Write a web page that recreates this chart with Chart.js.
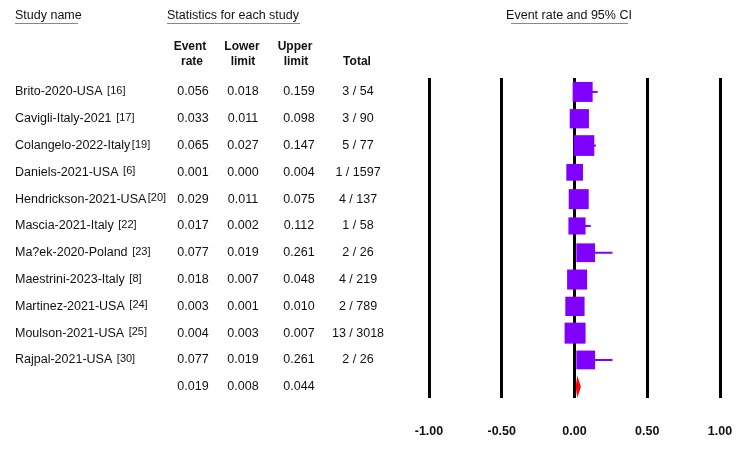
<!DOCTYPE html>
<html>
<head>
<meta charset="utf-8">
<script src="https://cdn.jsdelivr.net/npm/chart.js@4"></script>
<style>
body{margin:0;background:#fff;}
#wrap{width:750px;height:459px;position:relative;}
</style>
</head>
<body>
<div id="wrap"><canvas id="forest"></canvas></div>
<script>
// study table
const studyNames = ["Brito-2020-USA", "Cavigli-Italy-2021", "Colangelo-2022-Italy", "Daniels-2021-USA",
  "Hendrickson-2021-USA", "Mascia-2021-Italy", "Ma?ek-2020-Poland", "Maestrini-2023-Italy",
  "Martinez-2021-USA", "Moulson-2021-USA", "Rajpal-2021-USA"];
const studyRefs = [" [16]", " [17]", "[19]", " [6]", "[20]", " [22]", " [23]", " [8]", " [24]", " [25]", " [30]"];
const eventRate = [0.056, 0.033, 0.065, 0.001, 0.029, 0.017, 0.077, 0.018, 0.003, 0.004, 0.077];
const lowerLimit = [0.018, 0.011, 0.027, 0.000, 0.011, 0.002, 0.019, 0.007, 0.001, 0.003, 0.019];
const upperLimit = [0.159, 0.098, 0.147, 0.004, 0.075, 0.112, 0.261, 0.048, 0.010, 0.007, 0.261];
const events = [3, 3, 5, 1, 4, 1, 2, 4, 2, 13, 2];
const totals = [54, 90, 77, 1597, 137, 58, 26, 219, 789, 3018, 26];
const weights = [9.8, 9.1, 10.5, 6.8, 9.8, 7.2, 8.6, 9.8, 9.1, 10.8, 8.6];//relative weight (%), read off the square sizes
// pooled result
const summaryRate = 0.019, summaryLower = 0.008, summaryUpper = 0.044;
const xTicks = [-1, -0.5, 0, 0.5, 1];

const FONT = '"Liberation Sans", Arial, sans-serif';
const PURPLE = "#8000ff";
const SQ_SCALE = 6.39;//px of square side per sqrt(weight)
const SUMMARY_ROW = studyNames.length;

const forestPlugin = {
  id: "forest",
  beforeDatasetsDraw(chart) {
    const ctx = chart.ctx, xs = chart.scales.x, ys = chart.scales.y;
    ctx.save();
    ctx.strokeStyle = PURPLE;
    ctx.lineWidth = 2;
    for (let i = 0; i < eventRate.length; i++) {
      const y = ys.getPixelForValue(i);
      ctx.beginPath();
      ctx.moveTo(xs.getPixelForValue(lowerLimit[i]), y);
      ctx.lineTo(xs.getPixelForValue(upperLimit[i]), y);
      ctx.stroke();
    }
    ctx.restore();
  },
  afterDatasetsDraw(chart) {
    const ctx = chart.ctx, xs = chart.scales.x, ys = chart.scales.y;
    const y = ys.getPixelForValue(SUMMARY_ROW);
    ctx.save();
    ctx.fillStyle = "#ff0000";
    ctx.beginPath();
    ctx.moveTo(xs.getPixelForValue(summaryLower), y);
    ctx.lineTo(xs.getPixelForValue(summaryRate), y - 11);
    ctx.lineTo(xs.getPixelForValue(summaryUpper), y);
    ctx.lineTo(xs.getPixelForValue(summaryRate), y + 11);
    ctx.closePath();
    ctx.fill();
    ctx.restore();
  },
  afterDraw(chart) {
    const ctx = chart.ctx, ys = chart.scales.y;
    ctx.save();
    ctx.fillStyle = "#111";
    ctx.textBaseline = "middle";
    // titles
    ctx.font = "12.5px " + FONT;
    ctx.textAlign = "left";
    ctx.fillText("Study name", 15, 16);
    ctx.fillText("Statistics for each study", 167, 16);
    ctx.textAlign = "center";
    ctx.fillText("Event rate and 95% CI", 569, 16);
    ctx.strokeStyle = "#888";
    ctx.lineWidth = 1;
    ctx.beginPath();
    ctx.moveTo(15, 23.5); ctx.lineTo(78, 23.5);
    ctx.moveTo(167, 23.5); ctx.lineTo(300, 23.5);
    ctx.moveTo(511, 23.5); ctx.lineTo(628, 23.5);
    ctx.stroke();
    // column headers
    ctx.font = "bold 12px " + FONT;
    ctx.fillText("Event", 190, 47); ctx.fillText("rate", 192, 62);
    ctx.fillText("Lower", 242, 47); ctx.fillText("limit", 243, 62);
    ctx.fillText("Upper", 295, 47); ctx.fillText("limit", 296, 62);
    ctx.fillText("Total", 357, 62);
    // rows
    for (let i = 0; i < studyNames.length; i++) {
      const y = ys.getPixelForValue(i);
      ctx.textAlign = "left";
      ctx.font = "12.5px " + FONT;
      ctx.fillText(studyNames[i], 15, y);
      const w = ctx.measureText(studyNames[i]).width;
      ctx.font = "11px " + FONT;
      ctx.fillText(studyRefs[i], 15 + w + 1.5, y - 1);
      ctx.font = "12.5px " + FONT;
      ctx.textAlign = "center";
      ctx.fillText(eventRate[i].toFixed(3), 193, y);
      ctx.fillText(lowerLimit[i].toFixed(3), 243, y);
      ctx.fillText(upperLimit[i].toFixed(3), 299, y);
      ctx.fillText(events[i] + " / " + totals[i], 358, y);
    }
    const ys2 = ys.getPixelForValue(SUMMARY_ROW);
    ctx.fillText(summaryRate.toFixed(3), 193, ys2);
    ctx.fillText(summaryLower.toFixed(3), 243, ys2);
    ctx.fillText(summaryUpper.toFixed(3), 299, ys2);
    ctx.restore();
  }
};

new Chart(document.getElementById("forest"), {
  type: "scatter",
  data: {
    datasets: [{
      data: eventRate.map((v, i) => ({x: v, y: i})),
      pointStyle: "rect",
      pointRadius: weights.map(w => SQ_SCALE * Math.sqrt(w) / Math.SQRT2),
      pointHoverRadius: weights.map(w => SQ_SCALE * Math.sqrt(w) / Math.SQRT2),
      backgroundColor: PURPLE,
      borderColor: PURPLE,
      borderWidth: 0
    }]
  },
  options: {
    responsive: true,
    maintainAspectRatio: false,
    animation: false,
    events: [],
    layout: {padding: {left: 429, right: 30, top: 78, bottom: 20}},
    plugins: {legend: {display: false}, tooltip: {enabled: false}},
    scales: {
      x: {
        type: "linear",
        min: -1, max: 1,
        afterBuildTicks: (scale) => { scale.ticks = xTicks.map(v => ({value: v})); },
        //chart.js counts tick padding twice and pads the sides with it, so fix the box by hand
        afterFit: (scale) => { scale.height = 41; scale.paddingLeft = 0; scale.paddingRight = 0; },
        grid: {color: "#000", lineWidth: 3, drawTicks: false},
        border: {display: false},
        ticks: {
          color: "#111",
          padding: 26,
          font: {family: FONT, size: 12.5, weight: "bold"},
          callback: (v) => Number(v).toFixed(2)
        }
      },
      y: {
        type: "linear",
        display: false,
        reverse: true,
        min: -0.52, max: 11.42
      }
    }
  },
  plugins: [forestPlugin]
});
</script>
</body>
</html>
